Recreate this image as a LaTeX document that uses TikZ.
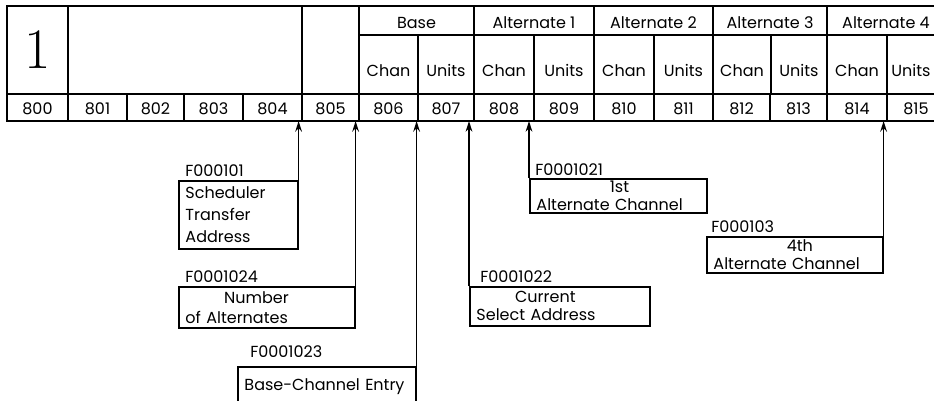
\documentclass[tikz,border=0pt]{standalone}
\usepackage{fontspec}
\newfontfamily\ibm{Poppins}
\usetikzlibrary{arrows.meta,positioning}

\begin{document}
\begin{tikzpicture}[
    x=0.75pt,y=-0.75pt,
    >={Stealth[length=8pt,width=5pt]},
    cell/.style={draw,line width=1.4pt,inner sep=0pt,outer sep=0pt,font=\ibm\fontsize{12}{14}\selectfont},
    hdr/.style={cell,minimum height=21.75pt,text height=12.2pt,text depth=0pt},
    sub/.style={cell,minimum height=44.25pt,text height=17.5pt,text depth=0pt},
    num/.style={cell,minimum height=20.25pt,text height=10.7pt,text depth=0pt},
    note/.style={draw,line width=1.2pt,anchor=north west,inner xsep=5pt,inner ysep=0pt,align=left,font=\ibm\fontsize{12}{13}\selectfont},
    lbl/.style={anchor=south west,inner sep=0pt,font=\ibm\fontsize{12}{14}\selectfont},
    link/.style={->,line width=1.2pt}
]
\useasboundingbox (0,0) rectangle (934,400);

% upper part of the word
\node[cell,minimum width=45.75pt,minimum height=66pt,font=\fontsize{43}{43}\selectfont] (one) at (37.5,50) {1};
\node[cell,minimum width=175.5pt,minimum height=66pt] (blank) at (185,50) {};
\node[cell,minimum width=42.75pt,minimum height=66pt] (spare) at (330.5,50) {};
\foreach \t/\l/\r [count=\i] in {Base/359/474,Alternate 1/474/594,Alternate 2/594/713,Alternate 3/713/827,Alternate 4/827/945}{
  \pgfmathsetmacro\w{(\r-\l)*0.75}
  \pgfmathsetmacro\c{(\l+\r)/2}
  \node[hdr,minimum width=\w pt] (hdr\i) at (\c,20.5) {\t};
}
\foreach \t/\l/\r [count=\i] in {Chan/359/418,Units/418/474,Chan/474/534,Units/534/594,Chan/594/654,Units/654/713,Chan/713/771,Units/771/827,Chan/827/887,Units/887/935}{
  \pgfmathsetmacro\w{(\r-\l)*0.75}
  \pgfmathsetmacro\c{(\l+\r)/2}
  \node[sub,minimum width=\w pt] (sub\i) at (\c,64.5) {\t};
}

% byte numbers
\foreach \n/\l/\r in {800/7/68,801/68/127,802/127/184,803/184/243,804/243/302,805/302/359,806/359/418,807/418/474,808/474/534,809/534/594,810/594/654,811/654/713,812/713/770,813/770/827,814/827/887,815/887/945}{
  \pgfmathsetmacro\w{(\r-\l)*0.75}
  \pgfmathsetmacro\c{(\l+\r)/2}
  \node[num,minimum width=\w pt] (n\n) at (\c,107.5) {\n};
}

% field boxes
\node[note,text width=79.25pt,minimum height=51pt,
      label={[lbl,xshift=5.25pt,yshift=2.25pt]north west:F000101}] (sched) at (178,180)
      {Scheduler\\[3.5pt]Transfer\\[3.5pt]Address};
\node[note,text width=122pt,minimum height=30.75pt,
      label={[lbl,xshift=5.25pt,yshift=2.25pt]north west:F0001024}] (alts) at (178,286)
      {\hspace*{29pt}Number\\[2pt]of Alternates};
\node[note,text width=123.5pt,minimum height=30pt,inner xsep=5pt,
      label={[lbl,xshift=9.75pt,yshift=6pt]north west:F0001023}] (basech) at (237,366)
      {\mbox{Base-Channel Entry}};
\node[note,text width=125pt,minimum height=29.25pt,
      label={[lbl,xshift=8.25pt,yshift=2.25pt]north west:F0001022}] (current) at (469,286)
      {\hspace*{29pt}Current\\[0.5pt]Select Address};
\node[note,text width=122.75pt,minimum height=25.5pt,
      label={[lbl,xshift=4.5pt,yshift=1.5pt]north west:F0001021}] (first) at (529,178)
      {\hspace*{55pt}1st\\Alternate Channel};
\node[note,text width=122pt,minimum height=27pt,
      label={[lbl,xshift=3.75pt,yshift=2.25pt]north west:F000103}] (fourth) at (706,236)
      {\hspace*{55pt}4th\\Alternate Channel};

\draw[link] (sched.north east) -- (sched.north east |- n804.south);
\draw[link] (alts.north east) -- (alts.north east |- n805.south);
\draw[link] (basech.north east) -- (basech.north east |- n806.south);
\draw[link] (current.north west) -- (current.north west |- n807.south);
\draw[link] (first.north west) -- (first.north west |- n808.south);
\draw[link] (fourth.north east) -- (fourth.north east |- n814.south);
\end{tikzpicture}
\end{document}
